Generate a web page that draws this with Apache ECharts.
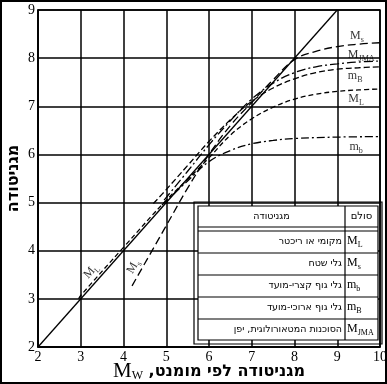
<!DOCTYPE html>
<html><head><meta charset="utf-8">
<script src="https://cdn.jsdelivr.net/npm/echarts@6/dist/echarts.min.js"></script>
<style>html,body{margin:0;padding:0;background:#fff}#c{width:387px;height:384px}</style>
</head><body><div id="c"></div>
<script>
// ---- data ----
const xRange = [2, 10];
const yRange = [2, 9];
const oneToOne = [[2, 2], [9, 9]];
const ML = [[2.95, 3.0], [3, 3.07], [4, 4.07], [5, 5.05], [5.5, 5.48], [6, 5.93], [6.5, 6.4], [7, 6.74], [7.5, 6.98], [8, 7.15], [8.5, 7.25], [9, 7.31], [9.5, 7.34], [10, 7.36]];
const Ms = [[4.2, 3.27], [5, 4.52], [5.5, 5.3], [6, 6.0], [6.5, 6.6], [7, 7.08], [7.5, 7.55], [8, 7.97], [8.5, 8.14], [9, 8.24], [9.5, 8.29], [10, 8.32]];
const mb = [[4.9, 4.95], [5.5, 5.45], [6, 5.85], [6.5, 6.08], [7, 6.22], [7.5, 6.29], [8, 6.33], [9, 6.36], [10, 6.37]];
const mB = [[4.7, 4.98], [5, 5.27], [5.5, 5.77], [6, 6.27], [6.5, 6.72], [7, 7.1], [7.5, 7.38], [8, 7.57], [8.5, 7.7], [9, 7.77], [9.5, 7.8], [10, 7.82]];
const MJMA = [[4.95, 5.05], [5.5, 5.65], [6, 6.2], [6.5, 6.7], [7, 7.15], [7.5, 7.48], [8, 7.7], [8.5, 7.82], [9, 7.88], [9.5, 7.92], [10, 7.94]];
// curve labels: [x, y, main, sub, rotate]
const curveLabels = [
  [9.46, 8.44, 'M', 's', 0],
  [9.56, 8.05, 'M', 'JMA', 0],
  [9.42, 7.61, 'm', 'B', 0],
  [9.44, 7.13, 'M', 'L', 0],
  [9.44, 6.14, 'm', 'b', 0],
  [3.26, 3.56, 'M', 'L', 48],
  [4.25, 3.66, 'M', 's', 60]
];
// legend table rows: [description, main, sub]
const tableHeader = ['מגניטודה', 'סולם'];
const tableRows = [
  ['מקומי או ריכטר', 'M', 'L'],
  ['גלי שטח', 'M', 's'],
  ['גלי גוף קצרי-מועד', 'm', 'b'],
  ['גלי גוף ארוכי-מועד', 'm', 'B'],
  ['הסוכנות המטאורולוגית, יפן', 'M', 'JMA']
];
const xName = ['M', 'W', ' ,מגניטודה לפי מומנט'];
const yName = 'מגניטודה';

// ---- chart ----
const serif = 'Liberation Serif';
const chart = echarts.init(document.getElementById('c'), null, {renderer: 'canvas'});
const subRich = {
  a: {fontFamily: serif, fontSize: 12, color: '#000', verticalAlign: 'top', lineHeight: 12},
  b: {fontFamily: serif, fontSize: 8, color: '#000', verticalAlign: 'bottom', lineHeight: 14}
};
function lineSeries(data, dash, w) {
  return {type: 'line', data: data, showSymbol: false, smooth: 0.4,
    lineStyle: {color: '#000', width: w || 1.3, type: dash}, silent: true, z: 3};
}
const series = [
  lineSeries(oneToOne, 'solid', 1.3),
  lineSeries(ML, [5, 3]),
  lineSeries(Ms, [8, 4]),
  lineSeries(mb, [8, 3, 2, 3]),
  lineSeries(mB, [6, 3]),
  lineSeries(MJMA, [9, 3, 2, 3]),
  {type: 'scatter', symbolSize: 0, silent: true, z: 5,
    data: curveLabels.map(l => ({value: [l[0], l[1]], main: l[2], sub: l[3],
      label: {rotate: l[4]}})),
    label: {show: true, position: 'inside', rich: subRich,
      formatter: p => '{a|' + p.data.main + '}{b|' + p.data.sub + '}'}}
];

const G = {left: 38, top: 10, right: 380, bottom: 347};
const T = {x0: 194, y0: 202, x1: 382, y1: 344, ix0: 198, iy0: 206, ix1: 378, iy1: 340, col: 345};
const rowLines = [227, 231, 253, 275, 297, 319];
const rowTops = [231, 253, 275, 297, 319, 340];
const heb = 'DejaVu Sans';
const graphics = [];
graphics.push({type: 'rect', shape: {x: 1, y: 1, width: 385, height: 382}, style: {fill: 'none', stroke: '#000', lineWidth: 2}, z: 100});
graphics.push({type: 'rect', shape: {x: T.x0, y: T.y0, width: T.x1 - T.x0, height: T.y1 - T.y0}, style: {fill: 'none', stroke: '#000', lineWidth: 1.2}, z: 10});
graphics.push({type: 'rect', shape: {x: T.ix0, y: T.iy0, width: T.ix1 - T.ix0, height: T.iy1 - T.iy0}, style: {fill: '#fff', stroke: '#000', lineWidth: 1.2}, z: 10});
rowLines.forEach(y => graphics.push({type: 'line', shape: {x1: T.ix0, y1: y, x2: T.ix1, y2: y}, style: {stroke: '#000', lineWidth: 1.2}, z: 11}));
graphics.push({type: 'line', shape: {x1: T.col, y1: T.iy0, x2: T.col, y2: T.iy1}, style: {stroke: '#000', lineWidth: 1.2}, z: 11});
graphics.push({type: 'text', x: (T.ix0 + T.col) / 2, y: (T.iy0 + rowLines[0]) / 2, style: {text: tableHeader[0], font: '9.5px ' + heb, fill: '#000', align: 'center', verticalAlign: 'middle'}, z: 12});
graphics.push({type: 'text', x: (T.col + T.ix1) / 2, y: (T.iy0 + rowLines[0]) / 2, style: {text: tableHeader[1], font: '10px ' + heb, fill: '#000', align: 'center', verticalAlign: 'middle'}, z: 12});
tableRows.forEach((r, i) => {
  const cy = (rowTops[i] + rowTops[i + 1]) / 2;
  graphics.push({type: 'text', x: T.col - 3, y: cy, style: {text: r[0], font: '9.5px ' + heb, fill: '#000', align: 'right', verticalAlign: 'middle'}, z: 12});
  graphics.push({type: 'text', x: T.col + 2, y: cy, style: {text: '{a|' + r[1] + '}{b|' + r[2] + '}', rich: subRich, align: 'left', verticalAlign: 'middle'}, z: 12});
});

chart.setOption({
  animation: false,
  backgroundColor: '#fff',
  grid: {left: G.left, top: G.top, right: 387 - G.right, bottom: 384 - G.bottom, show: true,
    borderColor: '#000', borderWidth: 1.5, containLabel: false, outerBoundsMode: 'none'},
  xAxis: {type: 'value', min: xRange[0], max: xRange[1], interval: 1,
    axisLine: {show: true, lineStyle: {color: '#000', width: 1.5}}, axisTick: {show: false},
    splitLine: {show: true, lineStyle: {color: '#000', width: 1.5}},
    axisLabel: {color: '#000', fontFamily: serif, fontSize: 14, margin: 3},
    name: '{m|' + xName[0] + '}{w|' + xName[1] + '}{h|' + xName[2] + '}', nameLocation: 'middle', nameGap: 14,
    nameMoveOverlap: false,
    nameTextStyle: {rich: {
      m: {fontFamily: serif, fontSize: 21, color: '#000', verticalAlign: 'top', lineHeight: 19},
      w: {fontFamily: serif, fontSize: 12, color: '#000', verticalAlign: 'bottom', lineHeight: 21},
      h: {fontFamily: heb, fontWeight: 'bold', fontSize: 16, color: '#000', verticalAlign: 'middle', lineHeight: 20}
    }}},
  yAxis: {type: 'value', min: yRange[0], max: yRange[1], interval: 1,
    axisLine: {show: true, lineStyle: {color: '#000', width: 1.5}}, axisTick: {show: false},
    splitLine: {show: true, lineStyle: {color: '#000', width: 1.5}},
    axisLabel: {color: '#000', fontFamily: serif, fontSize: 14, margin: 3},
    name: yName, nameLocation: 'middle', nameGap: 16, nameMoveOverlap: false,
    nameTextStyle: {fontFamily: heb, fontWeight: 'bold', fontSize: 16, color: '#000'}},
  series: series,
  graphic: graphics
});
</script></body></html>
